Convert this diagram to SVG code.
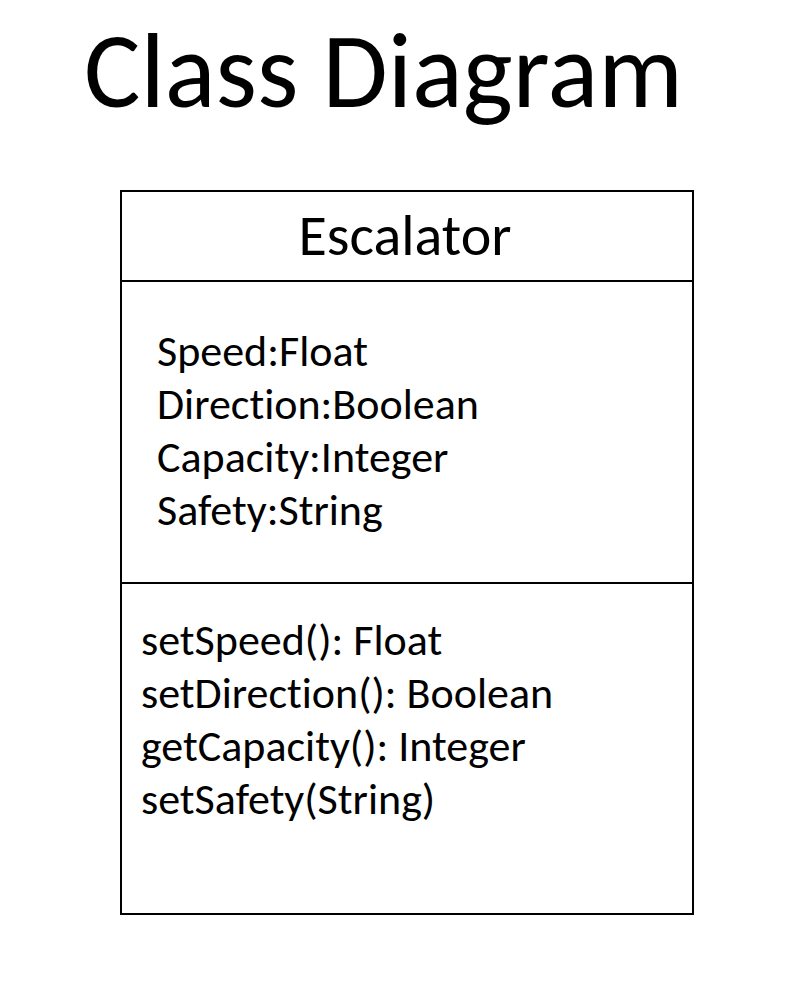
<svg xmlns="http://www.w3.org/2000/svg" width="804" height="1004" viewBox="0 0 804 1004">
<style>
text{font-family:Carlito,Lato,"Open Sans",sans-serif;fill:#000;font-variant-ligatures:none;font-feature-settings:"liga" 0}
.t{font-size:106px}
.h{font-size:58px}
.m{font-size:44px}
.box{fill:#fff;stroke:#000;stroke-width:2}
</style>
<rect width="804" height="1004" fill="#fff"/>
<text class="t" x="84" y="107">Class Diagram</text>
<g id="escalator">
<rect class="box" x="121" y="191" width="572" height="723"/>
<line x1="121" y1="281" x2="693" y2="281" stroke="#000" stroke-width="2"/>
<line x1="121" y1="583" x2="693" y2="583" stroke="#000" stroke-width="2"/>
<text class="h" x="405" y="255" text-anchor="middle">Escalator</text>
<text class="m" x="157" y="366">Speed:Float</text>
<text class="m" x="157" y="419">Direction:Boolean</text>
<text class="m" x="157" y="472">Capacity:Integer</text>
<text class="m" x="157" y="525">Safety:String</text>
<text class="m" x="141" y="655">setSpeed(): Float</text>
<text class="m" x="141" y="708">setDirection(): Boolean</text>
<text class="m" x="141" y="761">getCapacity(): Integer</text>
<text class="m" x="141" y="814">setSafety(String)</text>
</g>
<g id="connectors"></g>
</svg>
